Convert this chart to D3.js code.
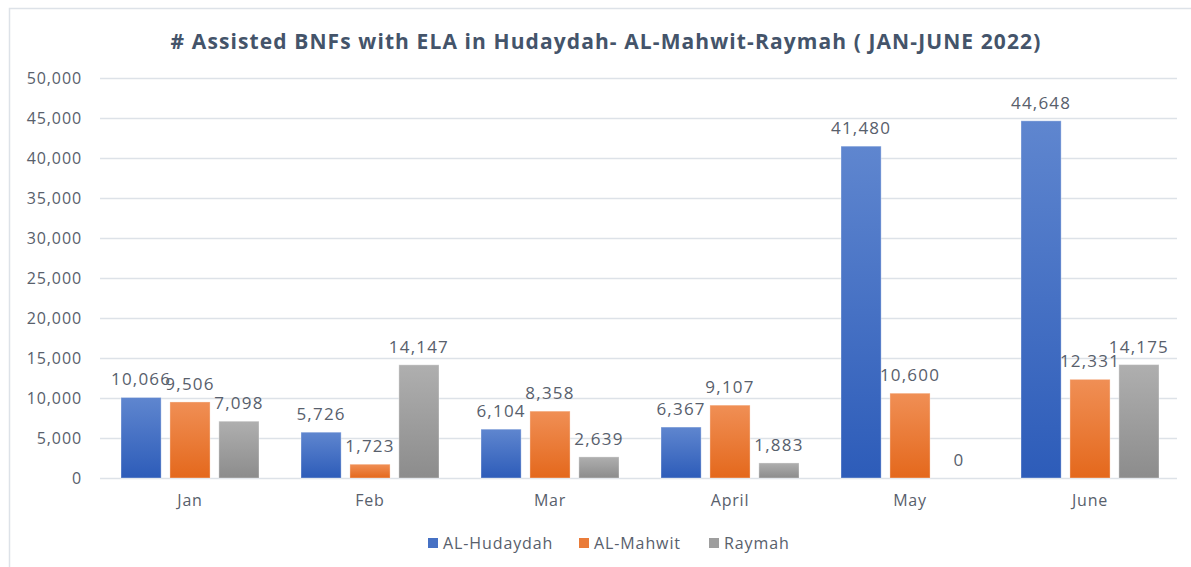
<!DOCTYPE html>
<html>
<head>
<meta charset="utf-8">
<script src="https://cdn.jsdelivr.net/npm/d3@7"></script>
<style>
  body { margin: 0; background: #fff; }
  svg { display: block; font-family: "Open Sans", "Noto Sans", sans-serif; }
</style>
</head>
<body>
<svg width="1191" height="567"></svg>
<script>
var months = ["Jan", "Feb", "Mar", "April", "May", "June"];
var seriesNames = ["AL-Hudaydah", "AL-Mahwit", "Raymah"];
var hudaydah = [10066, 5726, 6104, 6367, 41480, 44648];
var mahwit = [9506, 1723, 8358, 9107, 10600, 12331];
var raymah = [7098, 14147, 2639, 1883, 0, 14175];
var yTicks = [0, 5000, 10000, 15000, 20000, 25000, 30000, 35000, 40000, 45000, 50000];

var colorsTop = ["#5f86cf", "#f08f55", "#afafaf"];
var colorsBottom = ["#2d5cb9", "#e4681c", "#8c8c8c"];

var svg = d3.select("svg");
var textColor = "#58606c";
var fontStack = "\"Open Sans\", \"Noto Sans\", sans-serif";

// chart frame
svg.append("rect")
  .attr("x", 9.5).attr("y", 8.5)
  .attr("width", 1200).attr("height", 600)
  .attr("fill", "#fff")
  .attr("stroke", "#dde2e8")
  .attr("stroke-width", 1.5);

// gradients
var defs = svg.append("defs");
seriesNames.forEach(function (s, i) {
  var g = defs.append("linearGradient")
    .attr("id", "grad" + i)
    .attr("x1", 0).attr("y1", 0).attr("x2", 0).attr("y2", 1);
  g.append("stop").attr("offset", "0%").attr("stop-color", colorsTop[i]);
  g.append("stop").attr("offset", "100%").attr("stop-color", colorsBottom[i]);
});

svg.append("text")
  .attr("x", 606).attr("y", 49)
  .attr("text-anchor", "middle")
  .attr("font-size", 21)
  .attr("font-weight", "bold")
  .attr("letter-spacing", 1.1)
  .attr("fill", "#44546a")
  .text("# Assisted BNFs with ELA in Hudaydah- AL-Mahwit-Raymah ( JAN-JUNE 2022)");

var yScale = d3.scaleLinear().domain([0, 50000]).range([478, 78]);

var x0 = d3.scaleBand().domain(months).range([100, 1180])
  .paddingInner(42 / 180).paddingOuter(21 / 180);
var x1 = d3.scaleBand().domain(seriesNames).range([0, x0.bandwidth()])
  .paddingInner(0.18).paddingOuter(0);

// gridlines
svg.append("g").selectAll("line").data(yTicks).enter().append("line")
  .attr("x1", 100).attr("x2", 1177)
  .attr("y1", function (d) { return yScale(d) + 0.5; })
  .attr("y2", function (d) { return yScale(d) + 0.5; })
  .attr("stroke", "#dde2e8")
  .attr("stroke-width", 1.5);

// y axis labels
var yAxis = d3.axisLeft(yScale).tickValues(yTicks).tickSize(0).tickPadding(0)
  .tickFormat(d3.format(","));
var yg = svg.append("g").attr("transform", "translate(82,0)").call(yAxis);
yg.select(".domain").remove();
yg.selectAll("text").attr("font-size", 16).attr("letter-spacing", 0.9)
  .attr("fill", textColor).attr("font-family", fontStack);

// x axis labels
var xAxis = d3.axisBottom(x0).tickSize(0).tickPadding(0);
var xg = svg.append("g").attr("transform", "translate(0,495)").call(xAxis);
xg.select(".domain").remove();
xg.selectAll("text").attr("font-size", 16).attr("letter-spacing", 0.8)
  .attr("fill", textColor).attr("font-family", fontStack);

var table = months.map(function (m, i) {
  return { month: m, values: [hudaydah[i], mahwit[i], raymah[i]] };
});

var groups = svg.append("g").selectAll("g").data(table).enter().append("g")
  .attr("transform", function (d) { return "translate(" + x0(d.month) + ",0)"; });

groups.selectAll("rect")
  .data(function (d) { return d.values.map(function (v, i) { return { s: seriesNames[i], i: i, v: v }; }); })
  .enter().append("rect")
  .attr("x", function (d) { return x1(d.s); })
  .attr("y", function (d) { return yScale(d.v); })
  .attr("width", x1.bandwidth())
  .attr("height", function (d) { return yScale(0) - yScale(d.v); })
  .attr("fill", function (d) { return "url(#grad" + d.i + ")"; })
  .attr("stroke", "rgba(255,255,255,0.35)")
  .attr("stroke-width", 1);

groups.selectAll("text.lbl")
  .data(function (d) { return d.values.map(function (v, i) { return { s: seriesNames[i], i: i, v: v }; }); })
  .enter().append("text")
  .attr("class", "lbl")
  .attr("x", function (d) { return x1(d.s) + x1.bandwidth() / 2; })
  .attr("y", function (d) { return yScale(d.v) - 12; })
  .attr("text-anchor", "middle")
  .attr("font-size", 17)
  .attr("letter-spacing", 1.2)
  .attr("fill", textColor)
  .text(function (d) { return d3.format(",")(d.v); });

// legend
var legendX = [428, 579, 709];
var legend = svg.append("g").selectAll("g").data(seriesNames).enter().append("g")
  .attr("transform", function (d, i) { return "translate(" + legendX[i] + ",538)"; });
legend.append("rect")
  .attr("width", 10).attr("height", 10)
  .attr("fill", function (d, i) { return d3.interpolateRgb(colorsTop[i], colorsBottom[i])(0.5); });
legend.append("text")
  .attr("x", 15).attr("y", 11)
  .attr("font-size", 16)
  .attr("letter-spacing", 0.9)
  .attr("fill", textColor)
  .text(function (d) { return d; });
</script>
</body>
</html>
